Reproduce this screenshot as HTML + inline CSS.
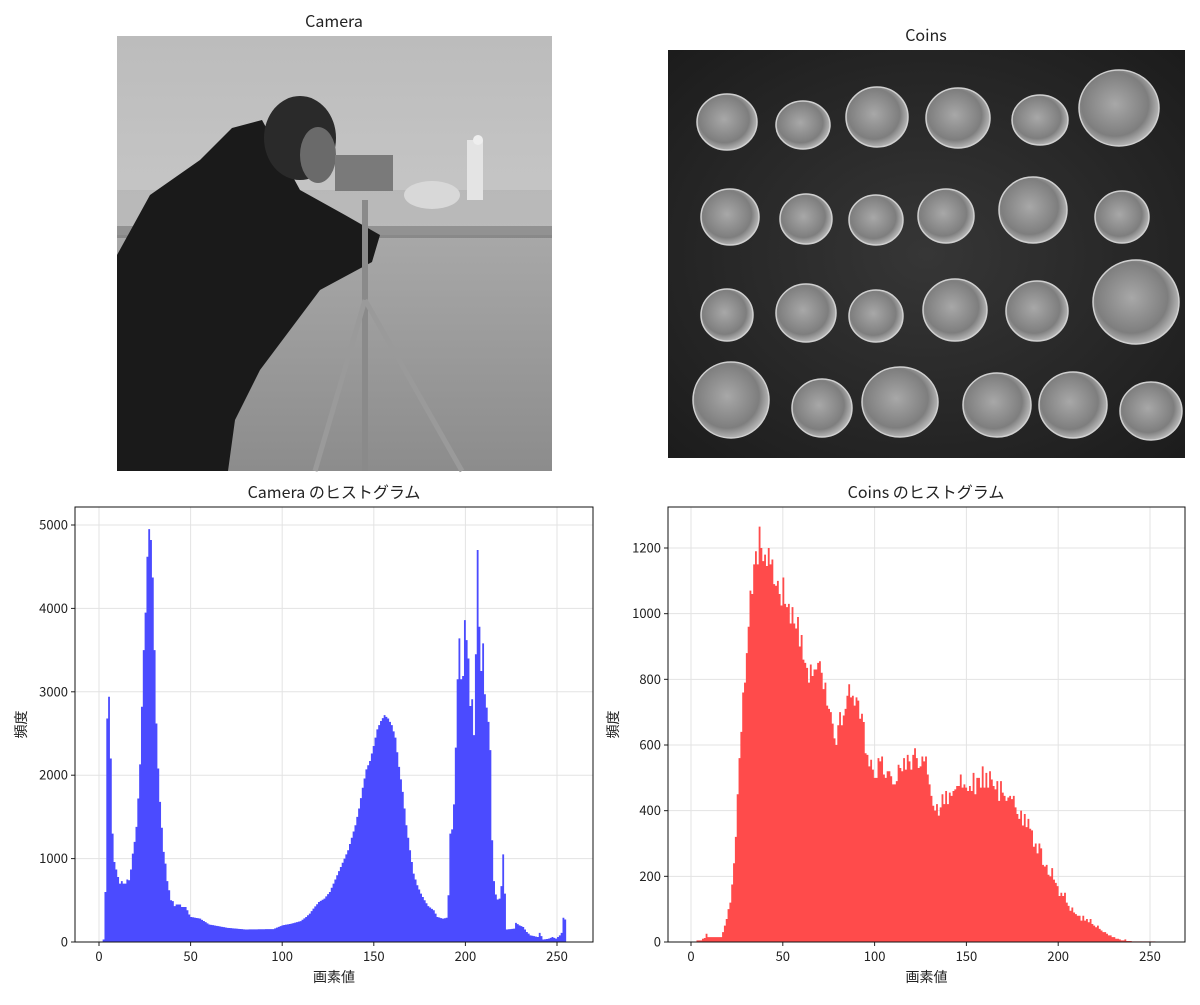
<!DOCTYPE html>
<html><head><meta charset="utf-8">
<style>
html,body{margin:0;padding:0;background:#fff;}
svg text{font-family:"Noto Sans CJK JP","Liberation Sans",sans-serif;fill:#222;}
</style></head>
<body>
<svg id="s" width="1200" height="1000" xmlns="http://www.w3.org/2000/svg">
<defs>
<linearGradient id="sky" x1="0" y1="0" x2="0" y2="1"><stop offset="0" stop-color="#bcbcbc"/><stop offset="1" stop-color="#d4d4d4"/></linearGradient>
<linearGradient id="grass" x1="0" y1="0" x2="0" y2="1"><stop offset="0" stop-color="#a8a8a8"/><stop offset="1" stop-color="#8c8c8c"/></linearGradient>
<radialGradient id="cbg" cx="0.5" cy="0.5" r="0.7"><stop offset="0" stop-color="#363636"/><stop offset="1" stop-color="#1c1c1c"/></radialGradient>
<radialGradient id="coin" cx="0.45" cy="0.45" r="0.6"><stop offset="0" stop-color="#a8a8a8"/><stop offset="0.7" stop-color="#7e7e7e"/><stop offset="1" stop-color="#c8c8c8"/></radialGradient>
</defs>
<text x="334" y="27" font-size="16" text-anchor="middle">Camera</text>
<text x="926" y="41" font-size="16" text-anchor="middle">Coins</text>
<rect x="117" y="36" width="435" height="435" fill="url(#sky)"/>
<rect x="117" y="235" width="435" height="236" fill="url(#grass)"/>
<rect x="117" y="190" width="435" height="45" fill="#b0b0b0" opacity="0.6"/>
<rect x="467" y="140" width="16" height="60" fill="#e4e4e4"/>
<circle cx="478" cy="140" r="5" fill="#eee"/>
<ellipse cx="432" cy="195" rx="28" ry="14" fill="#d8d8d8"/>
<rect x="117" y="226" width="435" height="12" fill="#6a6a6a" opacity="0.5"/>
<polygon points="117,255 150,195 200,160 232,128 262,120 300,190 345,215 380,235 372,262 320,290 260,370 235,420 228,471 117,471" fill="#1a1a1a"/>
<ellipse cx="300" cy="138" rx="36" ry="42" fill="#2a2a2a"/>
<ellipse cx="318" cy="155" rx="18" ry="28" fill="#6a6a6a"/>
<rect x="335" y="155" width="58" height="36" fill="#7a7a7a"/>
<line x1="365" y1="200" x2="365" y2="471" stroke="#8a8a8a" stroke-width="6"/>
<line x1="365" y1="300" x2="315" y2="471" stroke="#9a9a9a" stroke-width="5"/>
<line x1="365" y1="300" x2="462" y2="471" stroke="#9a9a9a" stroke-width="5"/>
<rect x="668" y="50" width="517" height="408" fill="url(#cbg)"/>
<g fill="url(#coin)" stroke="#d0d0d0" stroke-width="1.5">
<ellipse cx="727" cy="122" rx="30" ry="28"/><ellipse cx="803" cy="125" rx="27" ry="24"/><ellipse cx="877" cy="117" rx="31" ry="30"/><ellipse cx="958" cy="118" rx="32" ry="30"/><ellipse cx="1040" cy="120" rx="28" ry="25"/><ellipse cx="1119" cy="108" rx="40" ry="38"/>
<ellipse cx="730" cy="217" rx="29" ry="28"/><ellipse cx="806" cy="219" rx="26" ry="25"/><ellipse cx="876" cy="220" rx="27" ry="25"/><ellipse cx="946" cy="216" rx="28" ry="27"/><ellipse cx="1033" cy="210" rx="34" ry="33"/><ellipse cx="1122" cy="217" rx="27" ry="26"/>
<ellipse cx="727" cy="315" rx="26" ry="26"/><ellipse cx="806" cy="313" rx="30" ry="29"/><ellipse cx="876" cy="316" rx="27" ry="26"/><ellipse cx="955" cy="310" rx="32" ry="31"/><ellipse cx="1037" cy="311" rx="31" ry="30"/><ellipse cx="1136" cy="302" rx="43" ry="42"/>
<ellipse cx="731" cy="400" rx="38" ry="38"/><ellipse cx="822" cy="408" rx="30" ry="29"/><ellipse cx="900" cy="402" rx="38" ry="35"/><ellipse cx="997" cy="405" rx="34" ry="32"/><ellipse cx="1073" cy="405" rx="34" ry="33"/><ellipse cx="1151" cy="411" rx="31" ry="29"/>
</g>
<text x="334" y="498" font-size="16" text-anchor="middle">Camera のヒストグラム</text>
<text x="926" y="498" font-size="16" text-anchor="middle">Coins のヒストグラム</text>
<g id="h1"></g><g id="h2"></g>
</svg>
<script>
function interp(pts){var a=new Array(256).fill(0);var k=Object.keys(pts).map(Number).sort(function(x,y){return x-y});
for(var i=0;i<k.length-1;i++){var x0=k[i],x1=k[i+1];for(var x=x0;x<=x1;x++)a[x]=pts[x0]+(pts[x1]-pts[x0])*(x-x0)/(x1-x0);}return a;}
var cam=interp({0:0,1:0,2:30,3:600,4:2680,5:2940,6:2200,7:1300,8:960,9:870,10:780,11:700,12:730,13:700,14:700,15:750,16:740,17:870,18:1060,19:1200,20:1380,21:1720,22:2130,23:2820,24:3500,25:3950,26:4620,27:4950,28:4820,29:4370,30:3500,31:2620,32:2080,33:1680,34:1370,35:1080,36:940,37:730,38:620,39:500,40:490,41:430,42:450,44:450,45:420,47:420,48:380,49:330,50:300,55:280,60:210,70:170,80:150,95:155,100:200,105:220,110:250,113:300,115:340,117:400,120:480,123:520,126:600,128:700,130:800,132:900,134:1000,136:1100,138:1250,140:1400,142:1600,144:1850,146:2070,148:2170,150:2350,152:2550,154:2650,156:2720,158:2680,160:2600,162:2450,164:2100,166:1800,168:1400,170:1100,172:820,174:680,176:580,178:500,180:430,183:380,185:300,188:280,190:290,191:560,192:1300,193:1350,194:1650,195:2330,196:3150,197:3640,198:3150,199:3190,200:3860,201:3620,202:3400,203:2830,204:2910,205:2480,206:3450,207:4700,208:3780,209:3250,210:3580,211:2970,212:2810,213:2640,214:2300,215:1220,216:730,217:570,218:510,219:520,220:670,221:1050,222:580,223:150,227:160,228:230,230:200,232:180,234:120,236:80,240:60,241:110,243:30,246:40,248:60,250:40,252:80,253:110,254:290,255:270});
var co=[0,0,0,5,5,5,10,12,25,15,15,15,15,15,15,15,15,30,50,70,100,120,175,240,320,450,560,640,760,790,880,960,1070,1060,1150,1190,1150,1265,1200,1160,1180,1145,1200,1150,1165,1090,1085,1100,1060,1025,1110,1030,1020,1030,970,1020,970,955,990,900,935,860,850,835,790,845,810,830,830,850,855,820,770,790,720,710,700,665,620,600,660,700,660,690,710,750,785,745,750,720,745,735,680,695,670,575,570,535,555,525,500,500,560,550,565,510,500,520,520,505,480,480,490,540,530,520,560,525,570,550,525,570,590,560,530,535,565,550,565,510,480,445,415,400,420,385,410,450,420,460,420,455,445,460,465,475,475,510,470,480,470,460,475,460,515,450,500,500,470,535,470,515,470,520,495,475,465,490,430,490,455,445,430,440,445,435,445,410,390,375,400,355,390,350,375,345,340,290,300,270,300,285,235,230,235,205,200,225,190,180,170,140,150,140,150,120,110,95,105,90,85,80,80,65,80,65,70,60,70,55,50,45,50,40,35,30,30,25,20,20,15,15,10,10,8,5,5,8,3,3,3,2,2,2,2,2,2,2,2,2,2,2,2,2,0,0];
var NS="http://www.w3.org/2000/svg";
function el(g,t,a,txt){var e=document.createElementNS(NS,t);for(var k in a)e.setAttribute(k,a[k]);if(txt!==undefined)e.textContent=txt;g.appendChild(e);return e;}
function hist(id,L,R,T,B,x0,x250,data,yScale,yTicks,color,ylx){
 var g=document.getElementById(id);var sx=(x250-x0)/250;
 for(var i=0;i<=250;i+=50){var x=x0+i*sx;el(g,"line",{x1:x,x2:x,y1:T,y2:B,stroke:"#e3e3e3","stroke-width":1});el(g,"line",{x1:x,x2:x,y1:B,y2:B+4,stroke:"#222"});el(g,"text",{x:x,y:B+19,"font-size":13,"text-anchor":"middle"},i);}
 yTicks.forEach(function(v){var y=B-v*yScale;el(g,"line",{x1:L,x2:R,y1:y,y2:y,stroke:"#e3e3e3","stroke-width":1});el(g,"line",{x1:L-4,x2:L,y1:y,y2:y,stroke:"#222"});el(g,"text",{x:L-7,y:y+4.5,"font-size":13,"text-anchor":"end"},v);});
 var d="";var w=sx*255/256;for(var i=0;i<256;i++){var h=data[i]*yScale;if(h<=0)continue;var x=x0+i*w;d+="M"+x.toFixed(2)+" "+B+"h"+w.toFixed(2)+"v"+(-h).toFixed(2)+"h"+(-w).toFixed(2)+"z";}
 el(g,"path",{d:d,fill:color});
 el(g,"rect",{x:L,y:T,width:R-L,height:B-T,fill:"none",stroke:"#111","stroke-width":1});
 el(g,"text",{x:(L+R)/2,y:B+40,"font-size":14,"text-anchor":"middle"},"画素値");
 el(g,"text",{x:0,y:0,"font-size":14,"text-anchor":"middle",transform:"translate("+ylx+","+((T+B)/2)+") rotate(-90)"},"頻度");
}
hist("h1",75,593,507,942,99,557,cam,417/5000,[0,1000,2000,3000,4000,5000],"#4b4bff",26);
hist("h2",668,1185,507,942,691,1150,co,394/1200,[0,200,400,600,800,1000,1200],"#ff4b4b",618);
</script>
</body></html>
